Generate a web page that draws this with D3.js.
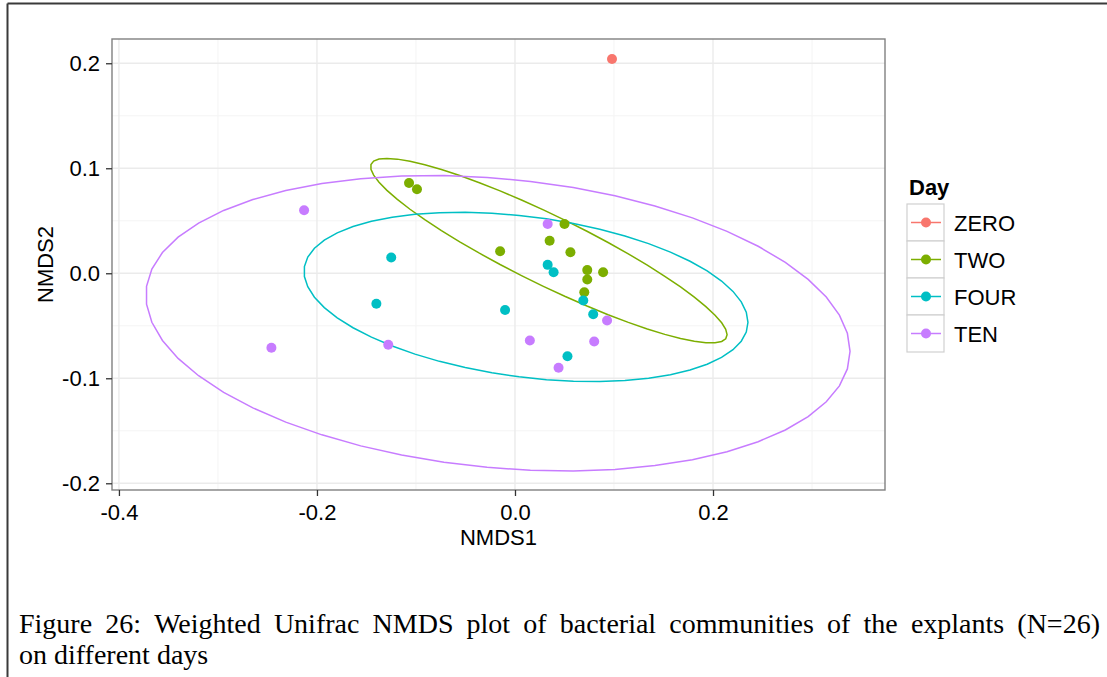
<!DOCTYPE html>
<html>
<head>
<meta charset="utf-8">
<script src="https://cdn.jsdelivr.net/npm/d3@7"></script>
<style>
  body { margin: 0; background: #fff; }
  svg { display: block; }
</style>
</head>
<body>
<div id="chart"></div>
<script>

// categories and colours
var days = ["ZERO", "TWO", "FOUR", "TEN"];
var dayColours = ["#F8766D", "#7CAE00", "#00BFC4", "#C77CFF"];

// NMDS scores per day
var zeroX = [0.098];
var zeroY = [0.204];
var twoX = [-0.107, -0.099, -0.015, 0.050, 0.035, 0.056, 0.073, 0.089, 0.073, 0.070];
var twoY = [0.086, 0.080, 0.021, 0.047, 0.031, 0.020, 0.003, 0.001, -0.006, -0.018];
var fourX = [-0.125, -0.140, -0.010, 0.033, 0.039, 0.069, 0.079, 0.053];
var fourY = [0.015, -0.029, -0.035, 0.008, 0.001, -0.026, -0.039, -0.079];
var tenX = [0.033, 0.093, 0.015, 0.080, 0.044, -0.128, -0.213, -0.246];
var tenY = [0.047, -0.045, -0.064, -0.065, -0.090, -0.068, 0.060, -0.071];

// ellipses: centre, half width, half height, correlation
var ellDays = ["TWO", "FOUR", "TEN"];
var ellCx = [0.0342, 0.0111, -0.0172];
var ellCy = [0.0215, -0.0225, -0.0476];
var ellW = [0.180, 0.2242, 0.3556];
var ellH = [0.0879, 0.0806, 0.1407];
var ellR = [-0.91, -0.30, -0.19];

// ticks
var xTicks = [-0.4, -0.2, 0.0, 0.2];
var yTicks = [-0.2, -0.1, 0.0, 0.1, 0.2];
var xMinor = [-0.3, -0.1, 0.1, 0.3];
var yMinor = [-0.15, -0.05, 0.05, 0.15];

var caption1 = "Figure 26: Weighted Unifrac NMDS plot of bacterial communities of the explants (N=26)";
var caption2 = "on different days";

var W = 1107, H = 677;
var panel = {left: 112, right: 885, top: 39, bottom: 490};

var svg = d3.select("#chart").append("svg")
    .attr("width", W)
    .attr("height", H);

// frame of the page cell
svg.append("line").attr("x1", 7.5).attr("x2", W).attr("y1", 3.5).attr("y2", 3.5)
    .style("stroke", "#3a3a3a").style("stroke-width", 2);
svg.append("line").attr("x1", 7.5).attr("x2", 7.5).attr("y1", 3.5).attr("y2", H)
    .style("stroke", "#3a3a3a").style("stroke-width", 2);

var x = d3.scaleLinear().domain([-0.407, 0.3737]).range([panel.left, panel.right]);
var y = d3.scaleLinear().domain([-0.2064, 0.2231]).range([panel.bottom, panel.top]);

var colour = d3.scaleOrdinal().domain(days).range(dayColours);

var font = "'Liberation Sans', Arial, Helvetica, sans-serif";

// grid
var grid = svg.append("g");
grid.selectAll(".xminor").data(xMinor).enter().append("line")
    .attr("x1", d => x(d)).attr("x2", d => x(d))
    .attr("y1", panel.top).attr("y2", panel.bottom)
    .style("stroke", "#f4f4f4").style("stroke-width", 1);
grid.selectAll(".yminor").data(yMinor).enter().append("line")
    .attr("x1", panel.left).attr("x2", panel.right)
    .attr("y1", d => y(d)).attr("y2", d => y(d))
    .style("stroke", "#f4f4f4").style("stroke-width", 1);
grid.selectAll(".xmajor").data(xTicks).enter().append("line")
    .attr("x1", d => x(d)).attr("x2", d => x(d))
    .attr("y1", panel.top).attr("y2", panel.bottom)
    .style("stroke", "#ebebeb").style("stroke-width", 1.4);
grid.selectAll(".ymajor").data(yTicks).enter().append("line")
    .attr("x1", panel.left).attr("x2", panel.right)
    .attr("y1", d => y(d)).attr("y2", d => y(d))
    .style("stroke", "#ebebeb").style("stroke-width", 1.4);

// ellipses
var ellipseLine = d3.line().x(d => x(d[0])).y(d => y(d[1])).curve(d3.curveLinearClosed);
var segs = d3.range(51).map(i => i / 51 * 2 * Math.PI);
ellDays.forEach(function(day, i) {
  var pts = segs.map(function(t) {
    var s = Math.sqrt(1 - ellR[i] * ellR[i]);
    return [ellCx[i] + ellW[i] * Math.cos(t),
            ellCy[i] + ellH[i] * (ellR[i] * Math.cos(t) + s * Math.sin(t))];
  });
  svg.append("path")
      .attr("d", ellipseLine(pts))
      .style("fill", "none")
      .style("stroke", colour(day))
      .style("stroke-width", 1.5);
});

// points
var groups = [[zeroX, zeroY], [twoX, twoY], [fourX, fourY], [tenX, tenY]];
groups.forEach(function(g, i) {
  var pts = g[0].map((v, j) => [v, g[1][j]]);
  svg.append("g").selectAll("circle")
    .data(pts)
    .enter()
    .append("circle")
      .attr("cx", d => x(d[0]))
      .attr("cy", d => y(d[1]))
      .attr("r", 5)
      .style("fill", colour(days[i]));
});

// panel border
svg.append("rect")
    .attr("x", panel.left).attr("y", panel.top)
    .attr("width", panel.right - panel.left).attr("height", panel.bottom - panel.top)
    .style("fill", "none").style("stroke", "#808080").style("stroke-width", 1.4);

// axes
var fmt = d => d.toFixed(1);
var xAxis = svg.append("g")
    .attr("transform", "translate(0," + panel.bottom + ")")
    .call(d3.axisBottom(x).tickValues(xTicks).tickFormat(fmt).tickSize(6).tickPadding(8));
var yAxis = svg.append("g")
    .attr("transform", "translate(" + panel.left + ",0)")
    .call(d3.axisLeft(y).tickValues(yTicks).tickFormat(fmt).tickSize(6).tickPadding(6));
[xAxis, yAxis].forEach(function(a) {
  a.select(".domain").remove();
  a.selectAll("line").style("stroke", "#333").style("stroke-width", 1.3);
  a.selectAll("text").style("font-family", font).style("font-size", "22px").style("fill", "#000");
});

svg.append("text")
    .attr("x", (panel.left + panel.right) / 2).attr("y", 545)
    .attr("text-anchor", "middle")
    .style("font-family", font).style("font-size", "22px")
    .text("NMDS1");
svg.append("text")
    .attr("transform", "translate(53," + (panel.top + panel.bottom) / 2 + ") rotate(-90)")
    .attr("text-anchor", "middle")
    .style("font-family", font).style("font-size", "22px")
    .text("NMDS2");

// legend
var legend = svg.append("g");
legend.append("text")
    .attr("x", 909).attr("y", 195)
    .style("font-family", font).style("font-size", "22px").style("font-weight", "bold")
    .text("Day");
var key = legend.selectAll(".key").data(days).enter().append("g")
    .attr("transform", (d, i) => "translate(907," + (204 + i * 37) + ")");
key.append("rect")
    .attr("width", 37).attr("height", 37)
    .style("fill", "#fff").style("stroke", "#d0d0d0").style("stroke-width", 1.2);
key.append("line")
    .attr("x1", 4).attr("x2", 34).attr("y1", 18.5).attr("y2", 18.5)
    .style("stroke", d => colour(d)).style("stroke-width", 1.5);
key.append("circle")
    .attr("cx", 19).attr("cy", 18.5).attr("r", 5)
    .style("fill", d => colour(d));
key.append("text")
    .attr("x", 47).attr("y", 27)
    .style("font-family", font).style("font-size", "22px")
    .text(d => d);

// caption, first line justified
var serif = "'Liberation Serif', 'Times New Roman', serif";
var capSize = 28;
var words = caption1.split(" ");
var capLeft = 19, capRight = 1100;
var wordNodes = svg.append("g").selectAll("text").data(words).enter().append("text")
    .attr("y", 633)
    .style("font-family", serif).style("font-size", capSize + "px")
    .text(d => d);
var widths = [];
wordNodes.each(function() { widths.push(this.getComputedTextLength()); });
var gap = (capRight - capLeft - d3.sum(widths)) / (words.length - 1);
var pos = capLeft;
wordNodes.attr("x", function(d, i) { var p = pos; pos += widths[i] + gap; return p; });
svg.append("text")
    .attr("x", capLeft).attr("y", 664)
    .style("font-family", serif).style("font-size", capSize + "px")
    .text(caption2);

</script>
</body>
</html>
